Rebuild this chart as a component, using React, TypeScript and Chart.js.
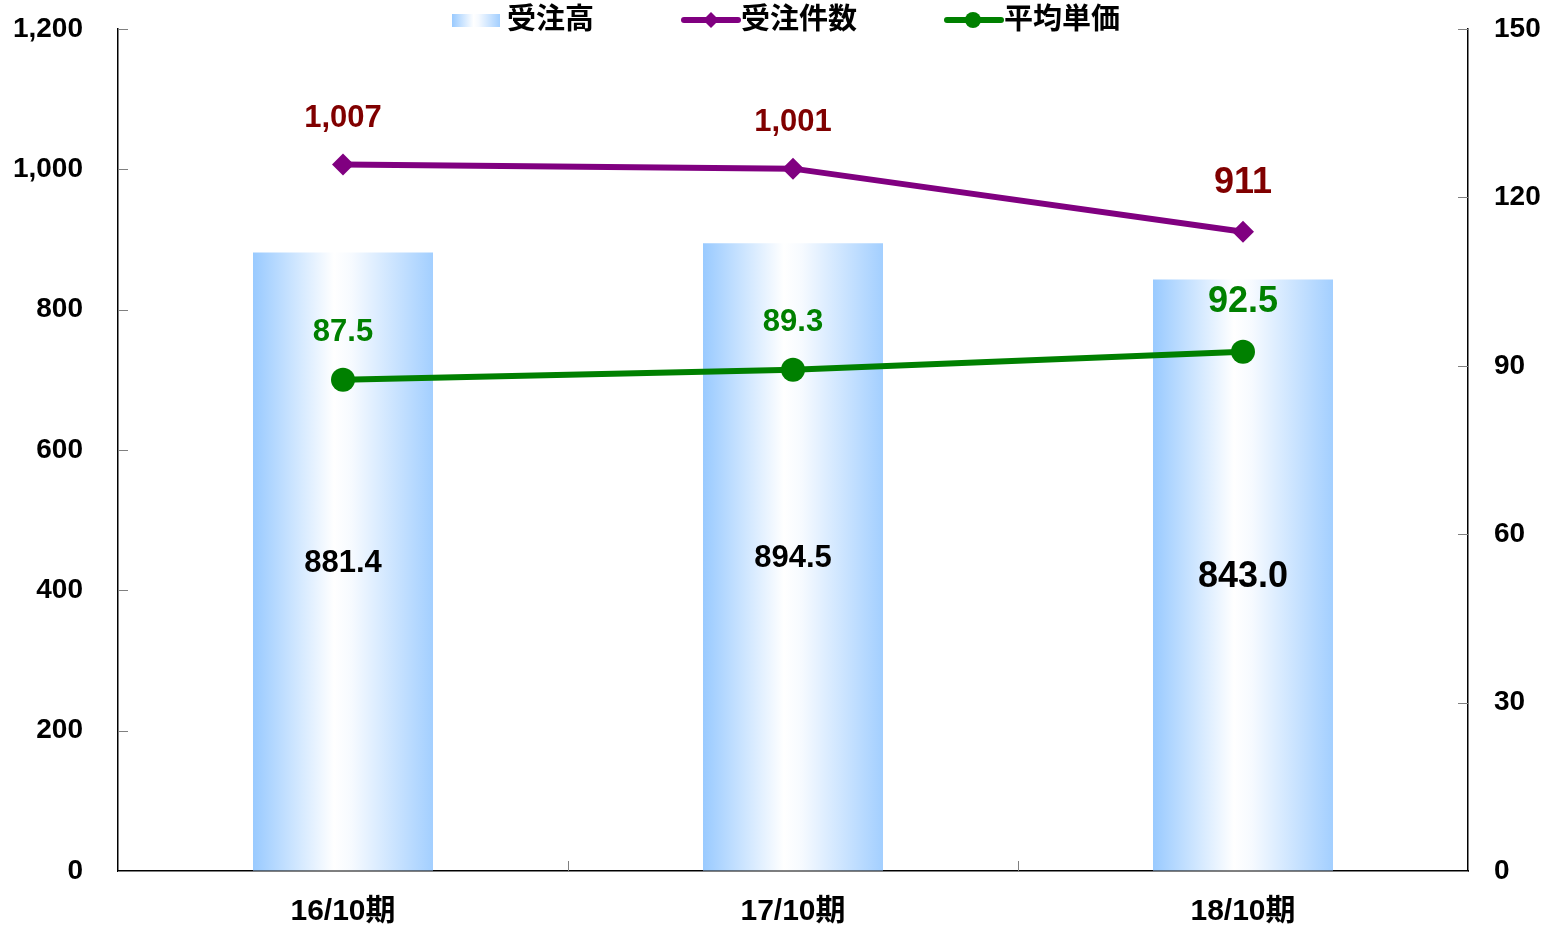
import React, { useEffect, useRef } from "react";
import { Chart, registerables } from "chart.js";

Chart.register(...registerables);

const categories = ["16/10期", "17/10期", "18/10期"];
const orderAmount = [881.4, 894.5, 843.0];
const orderCount = [1007, 1001, 911];
const avgPrice = [87.5, 89.3, 92.5];
const leftTicks = [0, 200, 400, 600, 800, 1000, 1200];
const rightTicks = [0, 30, 60, 90, 120, 150];
const amountLabels = ["881.4", "894.5", "843.0"];
const countLabels = ["1,007", "1,001", "911"];
const priceLabels = ["87.5", "89.3", "92.5"];
const bigLabel = [false, false, true];

const NUM_FONT = '"Liberation Sans", "Noto Sans CJK JP", sans-serif';
const JP_FONT = '"Liberation Sans", "Noto Sans CJK JP", sans-serif';

function barGradient(ctx: CanvasRenderingContext2D, x0: number, x1: number) {
  const g = ctx.createLinearGradient(x0, 0, x1, 0);
  g.addColorStop(0, "#99CAFF");
  g.addColorStop(0.45, "#FFFFFF");
  g.addColorStop(0.55, "#F6FAFF");
  g.addColorStop(1, "#A3CFFF");
  return g;
}

const decorPlugin = {
  id: "decor",
  afterDatasetsDraw(chart: any) {
    const ctx: CanvasRenderingContext2D = chart.ctx;
    const ca = chart.chartArea;
    const yl = chart.scales.y;
    const yr = chart.scales.y1;
    ctx.save();
    ctx.strokeStyle = "#808080";
    ctx.lineWidth = 1;
    leftTicks.forEach((v) => {
      const y = Math.round(yl.getPixelForValue(v)) + 0.5;
      ctx.beginPath();
      ctx.moveTo(ca.left, y);
      ctx.lineTo(ca.left + 10, y);
      ctx.stroke();
    });
    rightTicks.forEach((v) => {
      const y = Math.round(yr.getPixelForValue(v)) + 0.5;
      ctx.beginPath();
      ctx.moveTo(ca.right, y);
      ctx.lineTo(ca.right - 10, y);
      ctx.stroke();
    });
    const step = (ca.right - ca.left) / categories.length;
    for (let i = 1; i < categories.length; i++) {
      const x = Math.round(ca.left + step * i) + 0.5;
      ctx.beginPath();
      ctx.moveTo(x, ca.bottom);
      ctx.lineTo(x, ca.bottom - 10);
      ctx.stroke();
    }
    ctx.textAlign = "center";
    ctx.textBaseline = "middle";
    const barMeta = chart.getDatasetMeta(0);
    barMeta.data.forEach((el: any, i: number) => {
      ctx.fillStyle = "#000000";
      ctx.font = `bold ${bigLabel[i] ? 36 : 31}px ${NUM_FONT}`;
      ctx.fillText(amountLabels[i], el.x, (el.y + el.base) / 2 + 2);
    });
    const cMeta = chart.getDatasetMeta(1);
    cMeta.data.forEach((el: any, i: number) => {
      ctx.fillStyle = "#800000";
      ctx.font = `bold ${bigLabel[i] ? 36 : 31}px ${NUM_FONT}`;
      ctx.fillText(countLabels[i], el.x, el.y - (bigLabel[i] ? 49 : 46));
    });
    const pMeta = chart.getDatasetMeta(2);
    pMeta.data.forEach((el: any, i: number) => {
      ctx.fillStyle = "#008000";
      ctx.font = `bold ${bigLabel[i] ? 36 : 31}px ${NUM_FONT}`;
      ctx.fillText(priceLabels[i], el.x, el.y - (bigLabel[i] ? 50 : 47));
    });
    ctx.restore();
  },
  afterDraw(chart: any) {
    const ctx: CanvasRenderingContext2D = chart.ctx;
    ctx.save();
    const cy = 20;
    ctx.font = `bold 29px ${JP_FONT}`;
    ctx.textAlign = "left";
    ctx.textBaseline = "middle";
    ctx.fillStyle = barGradient(ctx, 452, 500);
    ctx.fillRect(452, 14, 48, 13);
    ctx.fillStyle = "#000";
    ctx.fillText("受注高", 507, cy + 1);
    ctx.strokeStyle = "#800080";
    ctx.lineWidth = 6;
    ctx.lineCap = "round";
    ctx.beginPath();
    ctx.moveTo(684, cy);
    ctx.lineTo(738, cy);
    ctx.stroke();
    ctx.fillStyle = "#800080";
    ctx.beginPath();
    ctx.moveTo(711, cy - 8);
    ctx.lineTo(719, cy);
    ctx.lineTo(711, cy + 8);
    ctx.lineTo(703, cy);
    ctx.closePath();
    ctx.fill();
    ctx.fillStyle = "#000";
    ctx.fillText("受注件数", 741, cy + 1);
    ctx.strokeStyle = "#008000";
    ctx.beginPath();
    ctx.moveTo(947, cy);
    ctx.lineTo(1001, cy);
    ctx.stroke();
    ctx.fillStyle = "#008000";
    ctx.beginPath();
    ctx.arc(973, cy, 8, 0, Math.PI * 2);
    ctx.fill();
    ctx.fillStyle = "#000";
    ctx.fillText("平均単価", 1004, cy + 1);
    ctx.restore();
  },
};

export default function App() {
  const ref = useRef<HTMLCanvasElement>(null);
  useEffect(() => {
    document.body.style.margin = "0";
    const canvas = ref.current!;
    const chart = new Chart(canvas, {
      type: "bar",
      data: {
        labels: categories,
        datasets: [
          {
            type: "bar",
            label: "受注高",
            data: orderAmount,
            yAxisID: "y",
            order: 3,
            categoryPercentage: 1,
            barPercentage: 0.4,
            borderWidth: 0,
            backgroundColor: (c: any) => {
              const chart = c.chart;
              const ca = chart.chartArea;
              if (!ca || !chart.scales.x) return "#A3CFFF";
              const x = chart.scales.x.getPixelForValue(c.dataIndex);
              const half = ((ca.right - ca.left) / categories.length) * 0.4 / 2;
              return barGradient(chart.ctx, x - half, x + half);
            },
          } as any,
          {
            type: "line",
            label: "受注件数",
            data: orderCount,
            yAxisID: "y",
            order: 1,
            borderColor: "#800080",
            backgroundColor: "#800080",
            borderWidth: 6,
            pointStyle: "rectRot",
            pointRadius: 11,
            pointBorderWidth: 0,
            tension: 0,
          } as any,
          {
            type: "line",
            label: "平均単価",
            data: avgPrice,
            yAxisID: "y1",
            order: 2,
            borderColor: "#008000",
            backgroundColor: "#008000",
            borderWidth: 6,
            pointStyle: "circle",
            pointRadius: 12,
            pointBorderWidth: 0,
            tension: 0,
          } as any,
        ],
      },
      options: {
        responsive: false,
        animation: false,
        devicePixelRatio: 1,
        layout: { padding: { top: 29, left: 0, right: 0, bottom: 0 } },
        plugins: {
          legend: { display: false },
          tooltip: { enabled: false },
          title: { display: false },
        },
        scales: {
          x: {
            type: "category",
            offset: true,
            grid: { display: true, drawOnChartArea: false, drawTicks: false, offset: true },
            border: { display: true, color: "#000", width: 1.5 },
            ticks: {
              padding: 23,
              color: "#000",
              font: { family: JP_FONT, size: 30, weight: "bold" },
              maxRotation: 0,
            },
            afterFit: (s: any) => {
              s.height = 58;
              s.paddingLeft = 0;
              s.paddingRight = 0;
            },
          },
          y: {
            position: "left",
            min: 0,
            max: 1200,
            grid: { display: true, drawOnChartArea: false, drawTicks: false },
            border: { display: true, color: "#000", width: 1.5 },
            ticks: {
              stepSize: 200,
              padding: 35,
              color: "#000",
              font: { family: NUM_FONT, size: 28, weight: "bold" },
              callback: (v: any) => Number(v).toLocaleString("en-US"),
            },
            afterFit: (s: any) => {
              s.width = 118;
              s.paddingTop = 0;
              s.paddingBottom = 0;
            },
          },
          y1: {
            position: "right",
            min: 0,
            max: 150,
            grid: { display: true, drawOnChartArea: false, drawTicks: false },
            border: { display: true, color: "#000", width: 1.5 },
            ticks: {
              stepSize: 30,
              padding: 26,
              color: "#000",
              font: { family: NUM_FONT, size: 28, weight: "bold" },
            },
            afterFit: (s: any) => {
              s.width = 83;
              s.paddingTop = 0;
              s.paddingBottom = 0;
            },
          },
        },
      } as any,
      plugins: [decorPlugin],
    });
    return () => chart.destroy();
  }, []);
  return (
    <div style={{ position: "absolute", left: 0, top: 0, width: 1551, height: 929, background: "#fff" }}>
      <canvas ref={ref} width={1551} height={929} style={{ display: "block" }} />
    </div>
  );
}
